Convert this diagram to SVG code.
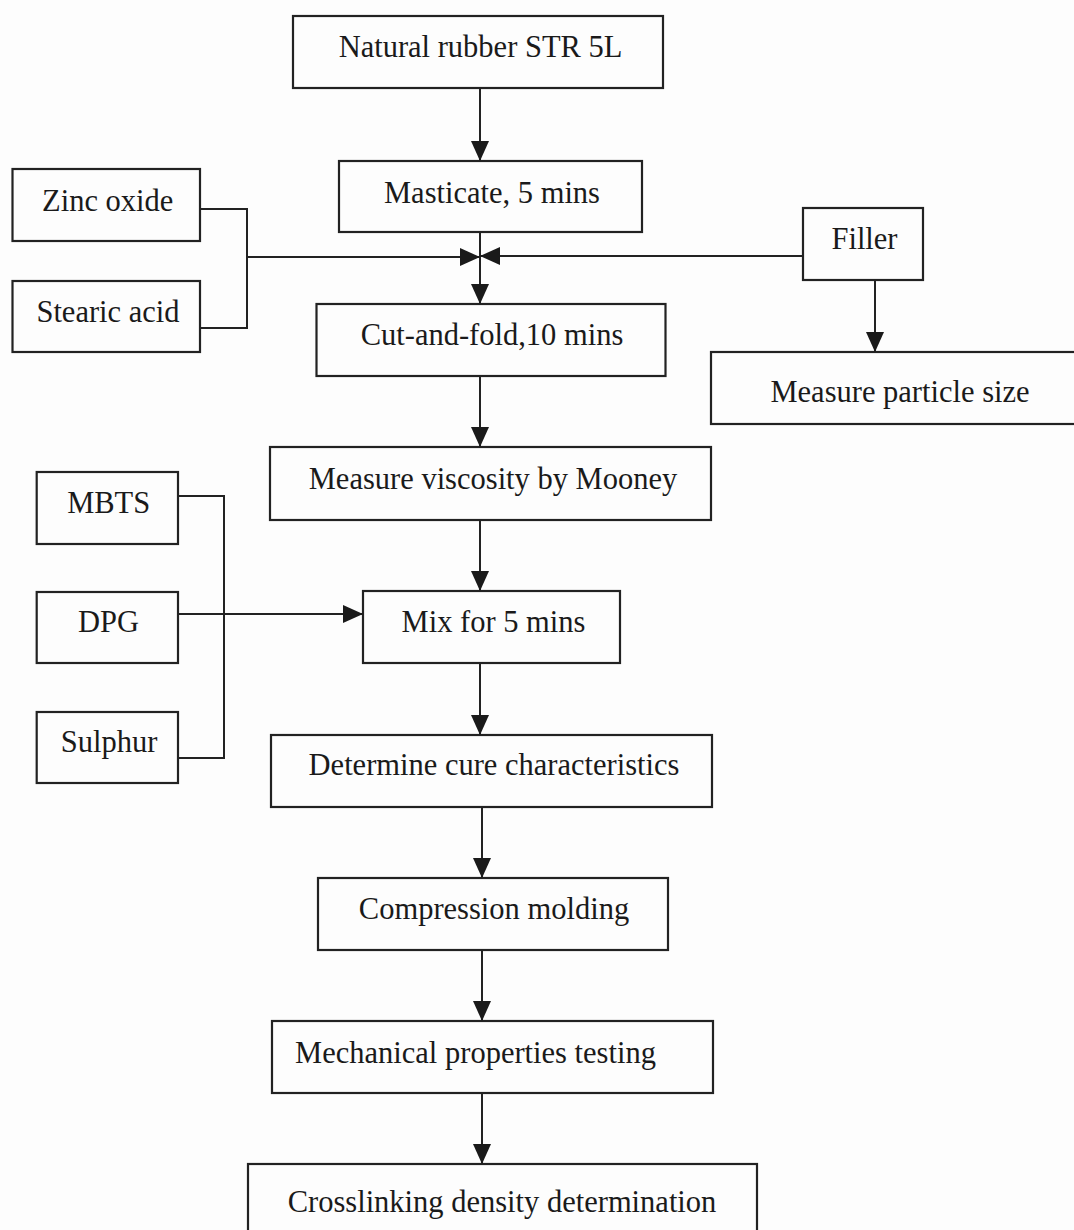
<svg xmlns="http://www.w3.org/2000/svg" width="1074" height="1230" viewBox="0 0 1074 1230">
<style>
.box{fill:none;stroke:#222;stroke-width:2.2}
.lbl{font-family:"Liberation Serif","Times New Roman",serif;font-size:30.5px;fill:#1a1a1a;text-anchor:middle}
.con{fill:none;stroke:#222;stroke-width:2}
</style>
<defs>
<marker id="arr" viewBox="0 0 20 18" refX="20" refY="9" markerWidth="20" markerHeight="18" markerUnits="userSpaceOnUse" orient="auto">
<path d="M0,0 L20,9 L0,18 Z" fill="#1a1a1a"/>
</marker>
</defs>
<rect width="1074" height="1230" fill="#fdfdfd"/>
<g id="n-natural"><rect class="box" x="293" y="16" width="370" height="72"/><text class="lbl" x="480.5" y="57">Natural rubber STR 5L</text></g>
<g id="n-masticate"><rect class="box" x="339" y="161" width="303" height="71"/><text class="lbl" x="492" y="203">Masticate, 5 mins</text></g>
<g id="n-zinc"><rect class="box" x="12.5" y="169" width="187.5" height="72"/><text class="lbl" x="107.7" y="211">Zinc oxide</text></g>
<g id="n-stearic"><rect class="box" x="12.5" y="281" width="187.5" height="71"/><text class="lbl" x="108" y="322">Stearic acid</text></g>
<g id="n-filler"><rect class="box" x="803" y="208" width="120" height="72"/><text class="lbl" x="864.5" y="249">Filler</text></g>
<g id="n-cut"><rect class="box" x="316.5" y="304" width="349" height="72"/><text class="lbl" x="492" y="345">Cut-and-fold,10 mins</text></g>
<g id="n-particle"><rect class="box" x="711" y="352" width="380" height="72"/><text class="lbl" x="900" y="402">Measure particle size</text></g>
<g id="n-viscosity"><rect class="box" x="270" y="447" width="441" height="73"/><text class="lbl" x="493" y="489">Measure viscosity by Mooney</text></g>
<g id="n-mbts"><rect class="box" x="36.7" y="472" width="141.3" height="72"/><text class="lbl" x="108.7" y="513">MBTS</text></g>
<g id="n-dpg"><rect class="box" x="36.7" y="592" width="141.3" height="71"/><text class="lbl" x="108.5" y="632">DPG</text></g>
<g id="n-sulphur"><rect class="box" x="36.7" y="712" width="141.3" height="71"/><text class="lbl" x="109" y="752">Sulphur</text></g>
<g id="n-mix"><rect class="box" x="363" y="591" width="257" height="72"/><text class="lbl" x="493.5" y="632">Mix for 5 mins</text></g>
<g id="n-cure"><rect class="box" x="271" y="735" width="441" height="72"/><text class="lbl" x="494" y="775">Determine cure characteristics</text></g>
<g id="n-compression"><rect class="box" x="318" y="878" width="350" height="72"/><text class="lbl" x="494" y="919">Compression molding</text></g>
<g id="n-mechanical"><rect class="box" x="272" y="1021" width="441" height="72"/><text class="lbl" x="475.5" y="1063">Mechanical properties testing</text></g>
<g id="n-crosslinking"><rect class="box" x="248" y="1164" width="509" height="80"/><text class="lbl" x="502" y="1212">Crosslinking density determination</text></g>
<g id="connectors">
<line class="con" x1="480" y1="88" x2="480" y2="161" marker-end="url(#arr)"/>
<line class="con" x1="480" y1="232" x2="480" y2="304" marker-end="url(#arr)"/>
<polyline class="con" points="200,209 247,209 247,328 200,328"/>
<line class="con" x1="247" y1="257" x2="480" y2="257" marker-end="url(#arr)"/>
<line class="con" x1="803" y1="256" x2="480" y2="256" marker-end="url(#arr)"/>
<line class="con" x1="875" y1="280" x2="875" y2="352" marker-end="url(#arr)"/>
<line class="con" x1="480" y1="376" x2="480" y2="447" marker-end="url(#arr)"/>
<line class="con" x1="480" y1="520" x2="480" y2="591" marker-end="url(#arr)"/>
<polyline class="con" points="178,496 224,496 224,758 178,758"/>
<line class="con" x1="178" y1="614" x2="363" y2="614" marker-end="url(#arr)"/>
<line class="con" x1="480" y1="663" x2="480" y2="735" marker-end="url(#arr)"/>
<line class="con" x1="482" y1="807" x2="482" y2="878" marker-end="url(#arr)"/>
<line class="con" x1="482" y1="950" x2="482" y2="1021" marker-end="url(#arr)"/>
<line class="con" x1="482" y1="1093" x2="482" y2="1164" marker-end="url(#arr)"/>
</g>
</svg>
